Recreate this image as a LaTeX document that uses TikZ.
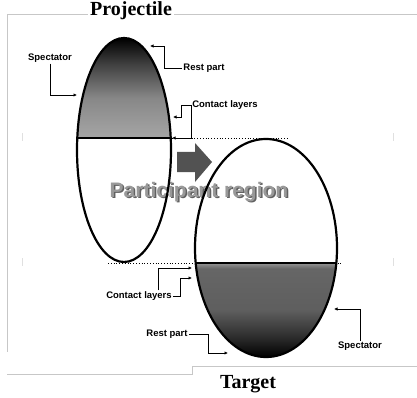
\documentclass[tikz,border=0pt]{standalone}
\usepackage{fontspec}
\setmainfont{Liberation Serif}
\newfontfamily\labelfont{Liberation Sans}
\usetikzlibrary{arrows.meta, positioning, calc}

\pgfdeclareverticalshading{projshade}{100bp}{color(0bp)=(black!35); color(25bp)=(black!35); color(45bp)=(black!47); color(62bp)=(black!75); color(75bp)=(black); color(100bp)=(black)}
\pgfdeclareverticalshading{targshade}{100bp}{color(0bp)=(black); color(25bp)=(black); color(36bp)=(black!82); color(50bp)=(black!63); color(72bp)=(black!60); color(75bp)=(black!42); color(100bp)=(black!42)}

\begin{document}
\begin{tikzpicture}[
    x=1pt, y=-1pt,
    nucleus/.style={line width=2.2pt},
    lbl/.style={font=\labelfont\bfseries\fontsize{9.5}{10}\selectfont, inner sep=1pt},
    title/.style={font=\bfseries\fontsize{20}{22}\selectfont, inner sep=2pt},
    ptr/.style={line width=0.9pt, -{Latex[length=3.5pt, width=3.5pt]}},
    frame/.style={draw=black!22, line width=0.8pt}
]
    \useasboundingbox (0,0) rectangle (417,398);

    % frame
    \draw[frame] (417,14) -- (7,14) -- (7,352);
    \draw[frame] (7,374) -- (192,374) -- (192,366) -- (417,366);
    \draw[black!12, line width=0.8pt] (22,133) -- (22,141) (22,258) -- (22,266)
        (393,133) -- (393,141) (393,258) -- (393,266);

    % shaded halves
    \begin{scope}
        \clip (124,150) ellipse [x radius=47pt, y radius=112pt];
        \shade[shading=projshade] (70,38) rectangle (180,138);
    \end{scope}
    \begin{scope}
        \clip (266,248) ellipse [x radius=71pt, y radius=109pt];
        \shade[shading=targshade] (190,263) rectangle (345,357);
    \end{scope}

    % participant region
    \node[font=\labelfont\bfseries\fontsize{21}{24}\selectfont, text=black!62] at (200.5,193.5) {Participant region};
    \node[font=\labelfont\bfseries\fontsize{21}{24}\selectfont, text=black!40] (part) at (199,192) {Participant region};

    % block arrow
    \fill[black!68] (177,152) -- (195,152) -- (195,143) -- (212,162) -- (195,182) -- (195,172) -- (177,172) -- cycle;

    % projectile and target
    \draw[line width=1.3pt] (77,138) -- (171,138);
    \draw[line width=1.3pt] (195,263) -- (337,263);
    \draw[nucleus] (124,150) ellipse [x radius=47pt, y radius=112pt];
    \draw[nucleus] (266,248) ellipse [x radius=71pt, y radius=109pt];

    % titles
    \node[title, fill=white] (proj) at (131,11) {Projectile};
    \node[title] (targ) at (248,384) {Target};

    % end points on the nuclei
    \coordinate (pSpec) at (77,95);
    \coordinate (pRest) at (150,46);
    \coordinate (pCtA) at (173,117);
    \coordinate (pCtB) at (172,138);
    \coordinate (pCtC) at (192,278);
    \coordinate (pCtD) at (192,268);
    \coordinate (pRestB) at (228,353);
    \coordinate (pSpecB) at (334,309);
    \coordinate (dotA) at (288,138);
    \coordinate (dotB) at (108,263);
    \coordinate (dotC) at (343,263);

    % dotted levels
    \draw[dotted, line width=0.8pt] (pCtB) -- (dotA);
    \draw[dotted, line width=0.8pt] (dotB) -- (dotC);

    % labels
    \node[lbl] (specA) at (50,58) {Spectator};
    \node[lbl] (restA) at (204,68) {Rest part};
    \node[lbl] (ctA) at (225,105) {Contact layers};
    \node[lbl] (ctB) at (139,296) {Contact layers};
    \node[lbl] (restB) at (167,334) {Rest part};
    \node[lbl] (specB) at (360,346) {Spectator};

    % pointers
    \draw[ptr] (specA.south) |- (pSpec);
    \draw[ptr] (restA.west) -- ++(-18,0) |- (pRest);
    \draw[ptr] (ctA.west) -- ++(-10,0) |- (pCtA);
    \draw[ptr] (ctA.west) |- (pCtB);
    \draw[ptr] (ctB.east) -- ++(8,0) |- (pCtC);
    \draw[ptr] ([xshift=19pt]ctB.north) |- (pCtD);
    \draw[ptr] (restB.east) -- ++(20,0) |- (pRestB);
    \draw[ptr] (specB.north) |- (pSpecB);
\end{tikzpicture}
\end{document}
